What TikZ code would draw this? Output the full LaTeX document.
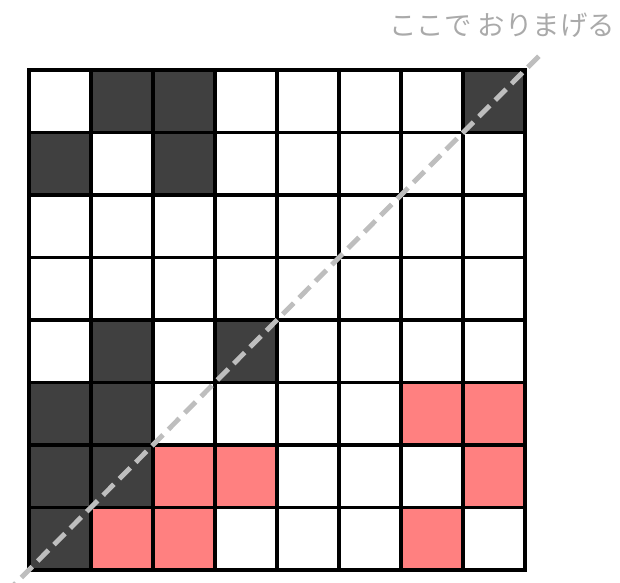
\documentclass[tikz,border=0pt]{standalone}
\usepackage{fontspec}
\newfontfamily\jpfont{Noto Sans CJK JP}
\usepackage{tikz}
\usetikzlibrary{positioning}
\definecolor{inkdark}{RGB}{64,64,64}
\definecolor{inkpink}{RGB}{255,128,128}
\definecolor{foldgray}{RGB}{190,190,190}
\definecolor{notegray}{RGB}{170,170,170}

\begin{document}
\begin{tikzpicture}[x=0.05cm,y=-0.05cm,
 darkcell/.style={fill=inkdark},
 pinkcell/.style={fill=inkpink},
 gridline/.style={line width=4.3pt, color=black, line cap=rect},
 foldline/.style={line width=7pt, color=foldgray, dash pattern=on 22pt off 11pt},
 notetext/.style={font=\jpfont\fontsize{39}{42}\selectfont, text=notegray, inner sep=0pt}]
\useasboundingbox (0,0) rectangle (620,582);
% filled cells (column/row, counted from top left)
\foreach \c/\r in {1/0,2/0,7/0,0/1,2/1,1/4,3/4,0/5,1/5,0/6,1/6,0/7}
  \fill[darkcell] (29+62*\c,70+62.5*\r) rectangle ++(62,62.5);
\foreach \c/\r in {6/5,7/5,2/6,3/6,7/6,1/7,2/7,6/7}
  \fill[pinkcell] (29+62*\c,70+62.5*\r) rectangle ++(62,62.5);
% grid
\foreach \i in {0,...,8} {
  \draw[gridline] (29+62*\i,70) -- (29+62*\i,570);
  \draw[gridline] (29,70+62.5*\i) -- (525,70+62.5*\i);
}
% fold
\coordinate (foldstart) at (5,594);
\coordinate (foldend) at (543,52);
\draw[foldline] (foldstart) -- (foldend);
\node[notetext, anchor=base east] (foldnote) at (615,35) {ここで おりまげる};
\end{tikzpicture}
\end{document}
